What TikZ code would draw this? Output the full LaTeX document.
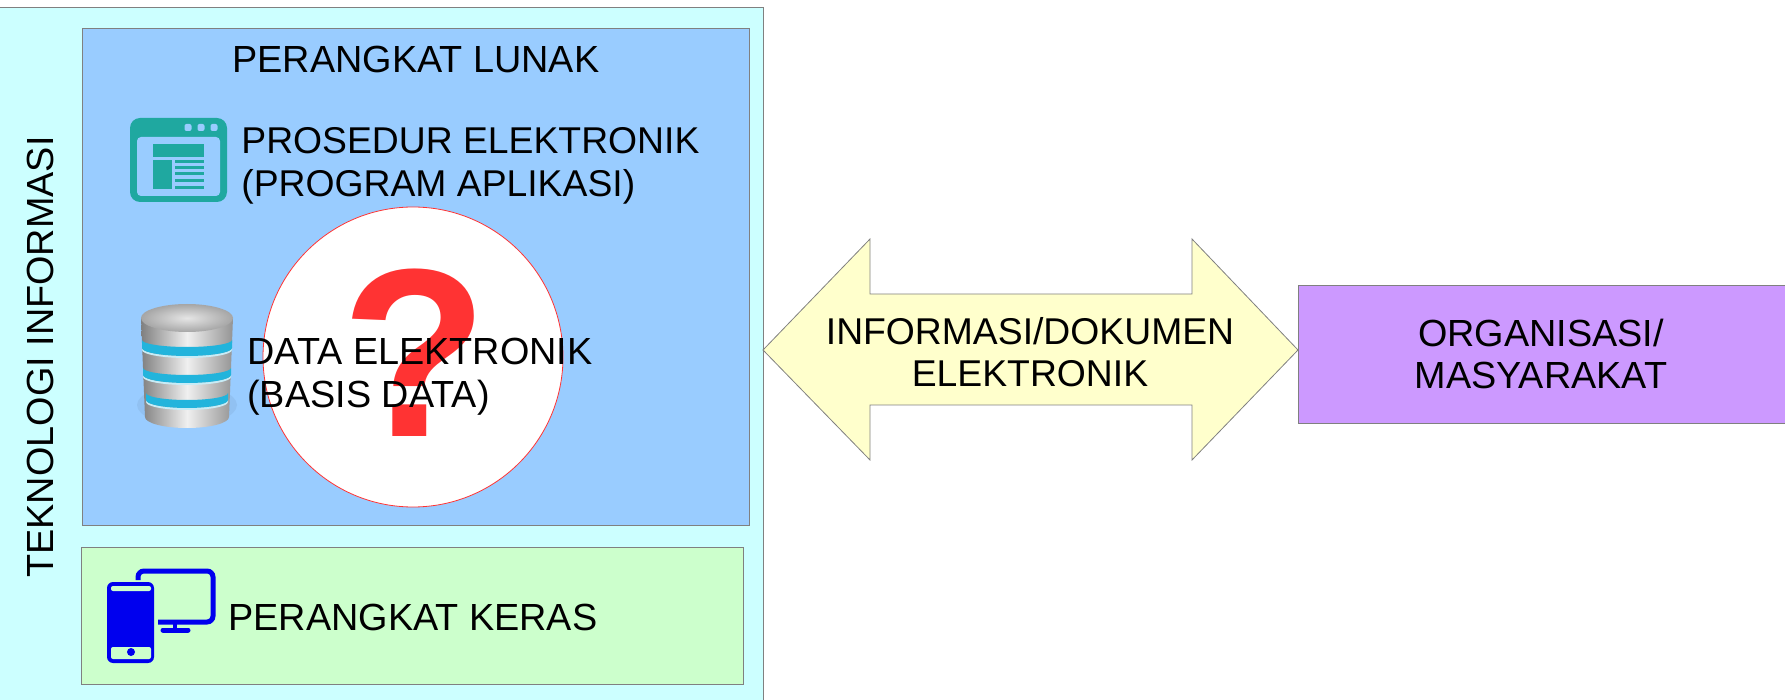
\documentclass[tikz,border=0pt]{standalone}
\usepackage{fontspec}
\setmainfont{Liberation Sans}
\definecolor{tiblue}{HTML}{99CCFF}
\definecolor{tigreen}{HTML}{CCFFCC}
\definecolor{ticyan}{HTML}{CCFFFF}
\definecolor{tiyellow}{HTML}{FFFFCC}
\definecolor{tipurple}{HTML}{CC99FF}
\definecolor{tired}{HTML}{FF3333}
\definecolor{titeal}{HTML}{1FA8A0}
\definecolor{tiband}{HTML}{22B4DC}
\definecolor{tidevice}{HTML}{0000EE}
\tikzset{
  boxline/.style={draw=black!50,line width=0.4pt},
  lbl/.style={font=\fontsize{18.9}{21.3}\selectfont,inner sep=0pt,align=left,anchor=west},
  lblc/.style={font=\fontsize{18.9}{21.3}\selectfont,inner sep=0pt,align=center},
  narrow/.style={font=\fontsize{18.65}{21.3}\selectfont},
  metal/.style={left color=black!50,right color=black!42,middle color=black!6}
}
\begin{document}
\begin{tikzpicture}[x=0.5pt,y=-0.5pt]
\useasboundingbox (0,0) rectangle (1785,700);
\clip (0,0) rectangle (1785,700);
\draw [boxline,fill=ticyan] (-2,7) rectangle (763,702);
\draw [boxline,fill=tiblue] (82,28) rectangle (749,525);
\draw [boxline,fill=tigreen] (81,547) rectangle (743,684);
% application icon
\fill [titeal,rounded corners=5pt] (130,118) rectangle (227,202);
\fill [tiblue,rounded corners=2pt] (137,137) rectangle (220,196);
\foreach \x in {188,201,214}
  \fill [tiblue,rounded corners=1pt] (\x-3.5,124) rectangle (\x+3.5,131);
\fill [titeal] (153,144) rectangle (204,157);
\fill [titeal] (153,160) rectangle (172,189);
\foreach \y in {162,168,174,181,188}
  \fill [titeal] (175,\y-1.5) rectangle (204,\y+1.5);
% database icon
\fill [tiblue!75!black,opacity=0.2] (187,405) ellipse (50 and 20);
\shade [metal] (141,318) -- (233,318) -- (229,417) arc (0:180:42 and 11) -- cycle;
\foreach \xa/\xb/\ya/\yb in {142/232/340/348,143/231/368/375,146/228/393/400} {
  \fill [white!75!tiband] (\xa,\yb) arc (180:0:{(\xb-\xa)/2} and 8) -- (\xb,\yb+2) arc (0:180:{(\xb-\xa)/2} and 8) -- cycle;
  \fill [tiband] (\xa,\ya) arc (180:0:{(\xb-\xa)/2} and 7) -- (\xb,\yb) arc (0:180:{(\xb-\xa)/2} and 8) -- cycle;
}
\shade [inner color=white!90!black,outer color=black!35] (187,318) ellipse (46 and 14);
% device icon
\draw [tidevice,line width=2.5pt,rounded corners=3pt] (138,580) -- (138,571) -- (213,571) -- (213,622) -- (158,622);
\draw [tidevice,line width=2pt] (175,622) -- (175,630);
\draw [tidevice,line width=2.5pt,line cap=round] (163,630) -- (188,630);
\fill [tidevice,rounded corners=3pt] (107,582) rectangle (154,663);
\fill [tigreen,rounded corners=1pt] (111,586) rectangle (151,591);
\fill [tigreen,rounded corners=1pt] (111,647) rectangle (151,659);
\fill [tidevice] (131,652) circle (4);
% circle with question mark
\draw [draw=tired,line width=0.4pt,fill=white] (413,357) circle (150);
\node (tanya) [text=tired,inner sep=0pt,font=\fontsize{120}{120}\selectfont\bfseries] at (415,353) {?};
\node (lunak) [lblc] at (416,59) {PERANGKAT LUNAK};
\node (prosedur) [lbl,narrow] at (241,166) {PROSEDUR ELEKTRONIK\\(PROGRAM APLIKASI)};
\node (data) [lbl] at (247,377) {DATA ELEKTRONIK\\(BASIS DATA)};
\node (keras) [lbl] at (228,617) {PERANGKAT KERAS};
\node (ti) [lblc,rotate=90] at (40,357) {TEKNOLOGI INFORMASI};
% double arrow
\draw [boxline,fill=tiyellow] (763,350) -- (870,239) -- (870,294) -- (1192,294) -- (1192,239) -- (1298,350) -- (1192,460) -- (1192,405) -- (870,405) -- (870,460) -- cycle;
\node (info) [lblc,narrow] at (1030,352) {INFORMASI/DOKUMEN\\ELEKTRONIK};
\draw [boxline,fill=tipurple] (1298,285) rectangle (1787,423);
\node (org) [lblc] at (1541,354) {ORGANISASI/\\MASYARAKAT};
\end{tikzpicture}
\end{document}
